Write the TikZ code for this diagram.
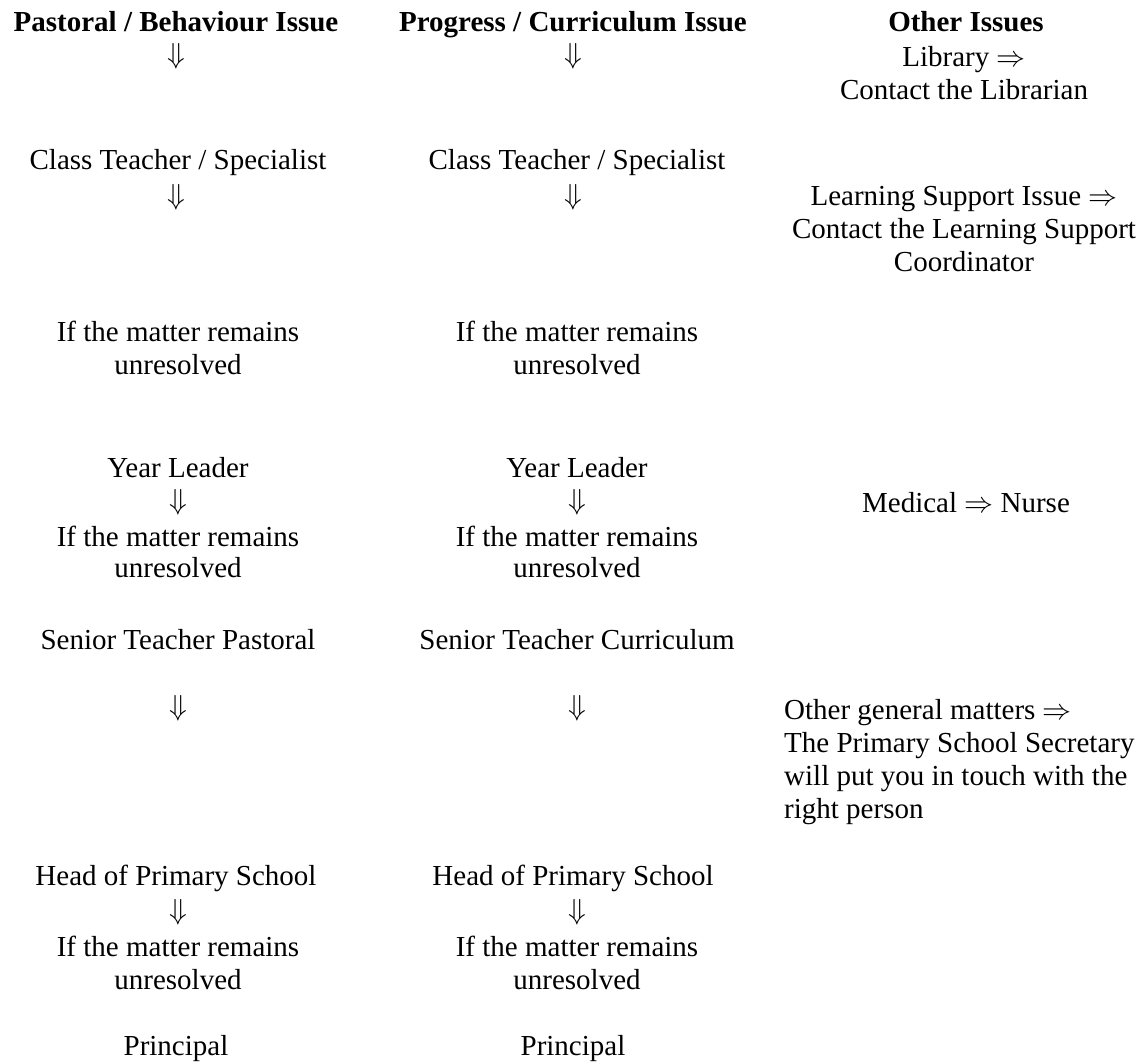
\RequirePackage{fix-cm}
\documentclass[tikz,border=0pt]{standalone}
\usepackage{fontspec}
\setmainfont{Liberation Serif}
\tikzset{
  txt/.style={anchor=base, inner sep=0pt, text height=19pt, text depth=3pt, font=\fontsize{29}{33}\selectfont},
  hd/.style={txt, font=\fontsize{29}{33}\selectfont\bfseries},
  txtl/.style={txt, anchor=base west},
  dn/.style={anchor=center, inner sep=0pt, text height=18pt, text depth=5pt, font=\fontsize{29}{33}\selectfont}
}
\begin{document}
\begin{tikzpicture}[x=1pt,y=-1pt]
\useasboundingbox (0,0) rectangle (1146,1063);
% left column
\node[hd]  (lh)  at (176,31)  {Pastoral / Behaviour Issue};
\node[dn]  (la1) at (176,57)  {$\Downarrow$};
\node[txt] (lct) at (178,169) {Class Teacher / Specialist};
\node[dn]  (la2) at (176,198) {$\Downarrow$};
\node[txt] (lm1) at (178,341) {If the matter remains};
\node[txt] (lu1) at (178,374) {unresolved};
\node[txt] (lyl) at (178,477) {Year Leader};
\node[dn]  (la3) at (178,503) {$\Downarrow$};
\node[txt] (lm2) at (178,546) {If the matter remains};
\node[txt] (lu2) at (178,577) {unresolved};
\node[txt] (lst) at (178,649) {Senior Teacher Pastoral};
\node[dn]  (la4) at (178,709) {$\Downarrow$};
\node[txt] (lhp) at (176,885) {Head of Primary School};
\node[dn]  (la5) at (178,913) {$\Downarrow$};
\node[txt] (lm3) at (178,956) {If the matter remains};
\node[txt] (lu3) at (178,989) {unresolved};
\node[txt] (lpr) at (176,1055) {Principal};
% middle column
\node[hd]  (mh)  at (573,31)  {Progress / Curriculum Issue};
\node[dn]  (ma1) at (573,57)  {$\Downarrow$};
\node[txt] (mct) at (577,169) {Class Teacher / Specialist};
\node[dn]  (ma2) at (573,198) {$\Downarrow$};
\node[txt] (mm1) at (577,341) {If the matter remains};
\node[txt] (mu1) at (577,374) {unresolved};
\node[txt] (myl) at (577,477) {Year Leader};
\node[dn]  (ma3) at (577,503) {$\Downarrow$};
\node[txt] (mm2) at (577,546) {If the matter remains};
\node[txt] (mu2) at (577,577) {unresolved};
\node[txt] (mst) at (577,649) {Senior Teacher Curriculum};
\node[dn]  (ma4) at (577,709) {$\Downarrow$};
\node[txt] (mhp) at (573,885) {Head of Primary School};
\node[dn]  (ma5) at (577,913) {$\Downarrow$};
\node[txt] (mm3) at (577,956) {If the matter remains};
\node[txt] (mu3) at (577,989) {unresolved};
\node[txt] (mpr) at (573,1055) {Principal};
% right column
\node[hd]  (rh)  at (966,31)  {Other Issues};
\node[txt] (rl1) at (964,66)  {Library $\Rightarrow$};
\node[txt] (rl2) at (964,99)  {Contact the Librarian};
\node[txt] (rs1) at (964,205) {Learning Support Issue $\Rightarrow$};
\node[txt] (rs2) at (964,238) {Contact the Learning Support};
\node[txt] (rs3) at (964,271) {Coordinator};
\node[txt] (rmd) at (966,512) {Medical $\Rightarrow$ Nurse};
\node[txtl] (rg1) at (784,719) {Other general matters $\Rightarrow$};
\node[txtl] (rg2) at (784,752) {The Primary School Secretary};
\node[txtl] (rg3) at (784,785) {will put you in touch with the};
\node[txtl] (rg4) at (784,818) {right person};
\end{tikzpicture}
\end{document}
